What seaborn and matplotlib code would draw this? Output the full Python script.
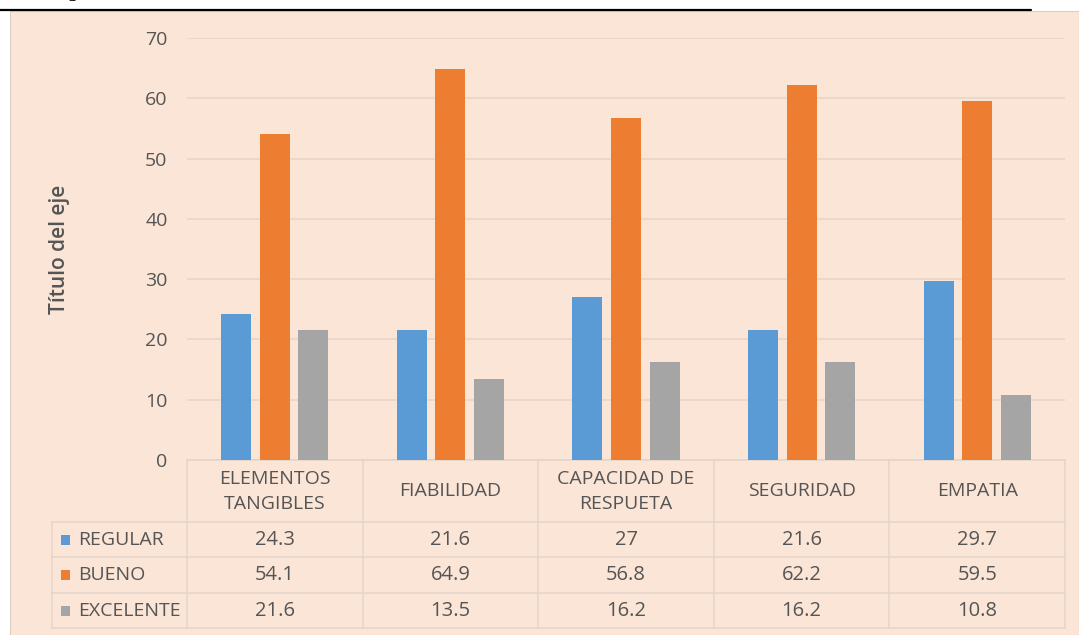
import matplotlib
matplotlib.use("Agg")
import matplotlib.pyplot as plt
from matplotlib.patches import Rectangle
import seaborn as sns
import pandas as pd

# ---- data ----
categories = ["ELEMENTOS\nTANGIBLES", "FIABILIDAD", "CAPACIDAD DE\nRESPUETA", "SEGURIDAD", "EMPATIA"]
series_names = ["REGULAR", "BUENO", "EXCELENTE"]
regular = [24.3, 21.6, 27, 21.6, 29.7]
bueno = [54.1, 64.9, 56.8, 62.2, 59.5]
excelente = [21.6, 13.5, 16.2, 16.2, 10.8]
y_ticks = [0, 10, 20, 30, 40, 50, 60, 70]
y_title = "Título del eje"

colors = ["#5B9BD5", "#ED7D31", "#A5A5A5"]
peach = "#FBE5D6"
txt = "#555555"
gridc = "#E8D6CB"
linec = "#E3D5CC"

series_values = [regular, bueno, excelente]
rows = []
for name, vals in zip(series_names, series_values):
    for c, v in zip(categories, vals):
        rows.append({"cat": c, "val": v, "series": name})
df = pd.DataFrame(rows)

sns.set_style("white")
plt.rcParams["font.family"] = ["Open Sans", "DejaVu Sans"]

W, H = 1079, 635
fig = plt.figure(figsize=(W / 100, H / 100), dpi=100)
fig.patch.set_facecolor("white")

bg = fig.add_axes([0, 0, 1, 1])
bg.set_xlim(0, W)
bg.set_ylim(H, 0)
bg.axis("off")
bg.add_patch(Rectangle((10, 11), W - 10, H - 11, facecolor=peach, edgecolor="#D8CFC9", lw=0.8))
bg.plot([0, 1031], [9.5, 9.5], color="black", lw=1.6)
fig.text(68 / W, 1 + 4 / H, "p", fontsize=16, family="DejaVu Serif", va="baseline")

x0, x1 = 187, 1065
ytop, ybot = 38, 460
ax = fig.add_axes([x0 / W, (H - ybot) / H, (x1 - x0) / W, (ybot - ytop) / H])
ax.set_facecolor("none")
sns.barplot(data=df, x="cat", y="val", hue="series", order=categories,
            hue_order=series_names, palette=colors, width=0.66, gap=0.22,
            saturation=1, legend=False, ax=ax, zorder=3,
            edgecolor="none", linewidth=0)
ax.set_xlim(-0.5, len(categories) - 0.5)
ax.set_ylim(0, 70)
ax.set_yticks(y_ticks)
ax.set_yticklabels([str(t) for t in y_ticks], fontsize=14, color=txt)
ax.tick_params(axis="y", length=0, pad=14)
ax.set_xticks([])
ax.set_xlabel("")
ax.set_ylabel("")
ax.grid(axis="y", color=gridc, lw=1.2, zorder=0)
for s in ["top", "right", "left"]:
    ax.spines[s].set_visible(False)
ax.spines["bottom"].set_color(linec)
ax.spines["bottom"].set_linewidth(1.2)

bg.text(59, 249, y_title, rotation=90, ha="center", va="center",
        fontsize=15, color=txt, fontweight="semibold")

# ---- data table ----
ncat = len(categories)
colw = (x1 - x0) / ncat
row_y = [460, 522, 557, 593, 628]
tl = 52
lk = dict(color=linec, lw=1.1)
for i in range(ncat + 1):
    bg.plot([x0 + i * colw] * 2, [row_y[0], row_y[-1]], **lk)
bg.plot([tl, tl], [row_y[1], row_y[-1]], **lk)
for y in row_y[1:]:
    bg.plot([tl, x1], [y, y], **lk)

for i, c in enumerate(categories):
    cx = x0 + (i + 0.5) * colw
    bg.text(cx, (row_y[0] + row_y[1]) / 2 + 0.5, c, ha="center", va="center",
            fontsize=14, color=txt, linespacing=1.55)
for r, (name, vals, col) in enumerate(zip(series_names, series_values, colors)):
    cy = (row_y[r + 1] + row_y[r + 2]) / 2
    bg.add_patch(Rectangle((61, cy - 5), 9, 10, facecolor=col, edgecolor="none"))
    bg.text(78, cy + 0.5, name, ha="left", va="center", fontsize=14, color=txt)
    for i, v in enumerate(vals):
        cx = x0 + (i + 0.5) * colw
        bg.text(cx, cy + 0.5, f"{v:g}", ha="center", va="center", fontsize=14.5, color=txt)

fig.savefig("out.png", dpi=100, facecolor=fig.get_facecolor())
